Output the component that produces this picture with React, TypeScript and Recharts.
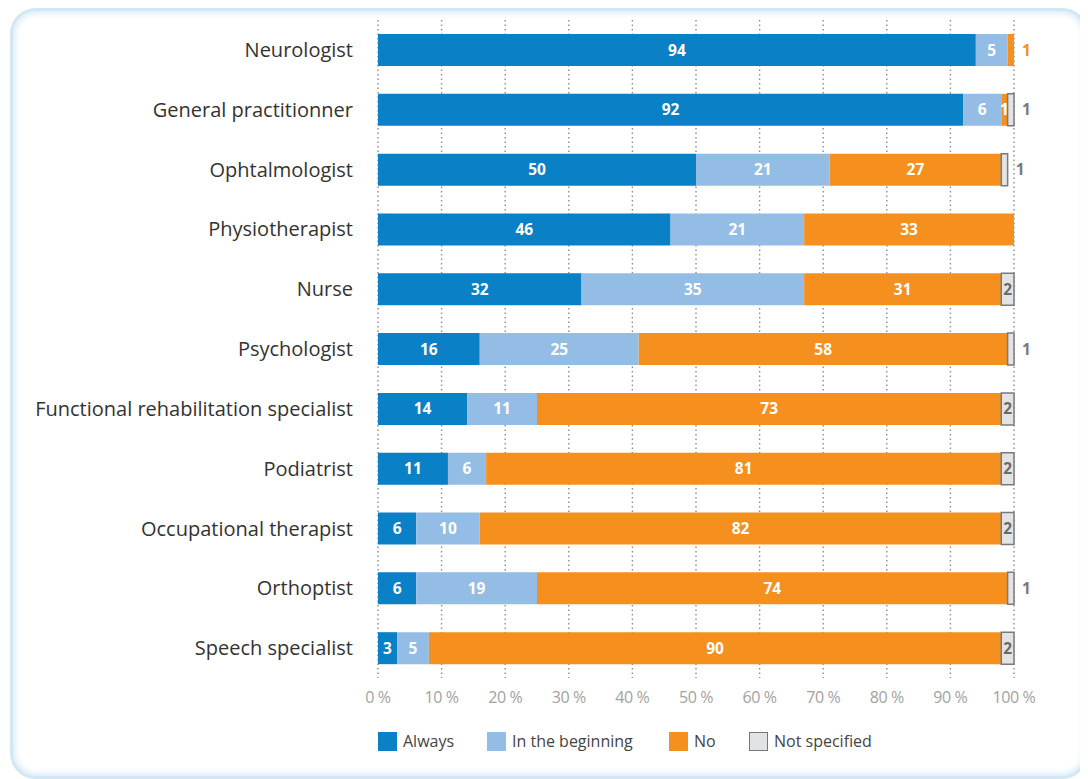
import React from "react";
import { BarChart, Bar, XAxis, YAxis, CartesianGrid, LabelList } from "recharts";

const categories = [
  "Neurologist",
  "General practitionner",
  "Ophtalmologist",
  "Physiotherapist",
  "Nurse",
  "Psychologist",
  "Functional rehabilitation specialist",
  "Podiatrist",
  "Occupational therapist",
  "Orthoptist",
  "Speech specialist",
];
const always = [94, 92, 50, 46, 32, 16, 14, 11, 6, 6, 3];
const beginning = [5, 6, 21, 21, 35, 25, 11, 6, 10, 19, 5];
const no = [1, 1, 27, 33, 31, 58, 73, 81, 82, 74, 90];
const notSpecified = [0, 1, 1, 0, 2, 1, 2, 2, 2, 1, 2];
const xTicks = [0, 10, 20, 30, 40, 50, 60, 70, 80, 90, 100];

const seriesKeys = ["always", "beginning", "no", "notSpecified"];
const seriesNames = ["Always", "In the beginning", "No", "Not specified"];
const fills = ["#0a80c6", "#94bde5", "#f5901e", "#e2e3e4"];
const outsideColors = ["#0a80c6", "#94bde5", "#f5901e", "#7a7a7a"];
const insideColors = ["#ffffff", "#ffffff", "#ffffff", "#6b6b6b"];

const data = categories.map((name, i) => ({
  name,
  always: always[i],
  beginning: beginning[i],
  no: no[i],
  notSpecified: notSpecified[i],
}));

const FONT = "'Open Sans', 'DejaVu Sans', sans-serif";

const makeLabel = (si: number) => (props: any) => {
  const { x, y, width, height, value, index } = props;
  if (!value) return null;
  const row: any = data[index];
  const isLast = seriesKeys.slice(si + 1).every((k) => !row[k]);
  const cy = Number(y) + Number(height) / 2;
  if (value === 1 && isLast) {
    return (
      <text
        x={Number(x) + Number(width) + 8}
        y={cy}
        dy="0.36em"
        textAnchor="start"
        fill={outsideColors[si]}
        fontFamily={FONT}
        fontWeight={700}
        fontSize={15.5}
      >
        {value}
      </text>
    );
  }
  return (
    <text
      x={Number(x) + Number(width) / 2}
      y={cy}
      dy="0.36em"
      textAnchor="middle"
      fill={insideColors[si]}
      fontFamily={FONT}
      fontWeight={700}
      fontSize={15.5}
    >
      {value}
    </text>
  );
};

const legendLeft = [370, 479, 661, 741];

export default function App() {
  return (
    <div style={{ position: "relative", width: 1080, height: 771 }}>
      <div
        style={{
          position: "absolute",
          left: 2,
          top: 0,
          width: 1072,
          height: 765,
          borderRadius: 26,
          border: "3px solid #d3e6f4",
          boxShadow: "inset 0 0 8px #c3def1",
          background: "#ffffff",
        }}
      />
      <div style={{ position: "absolute", left: 0, top: 0 }}>
        <BarChart
          width={1072}
          height={760}
          data={data}
          layout="vertical"
          margin={{ top: 12, right: 66, bottom: 60, left: 0 }}
          barSize={32}
        >
          <CartesianGrid
            horizontal={false}
            vertical={true}
            stroke="#8c8c8c"
            strokeDasharray="1.5 3"
            strokeWidth={1.4}
          />
          <XAxis
            type="number"
            domain={[0, 100]}
            ticks={xTicks}
            interval={0}
            tickFormatter={(v: number) => `${v} %`}
            axisLine={false}
            tickLine={false}
            tickMargin={8}
            height={30}
            tick={{ fill: "#a2a2a2", fontSize: 16, fontFamily: FONT, letterSpacing: -0.4 }}
          />
          <YAxis
            type="category"
            dataKey="name"
            width={370}
            axisLine={false}
            tickLine={false}
            tickMargin={19}
            interval={0}
            tick={{ fill: "#333333", fontSize: 20, fontFamily: FONT }}
          />
          {seriesKeys.map((k, si) => (
            <Bar
              key={k}
              dataKey={k}
              name={seriesNames[si]}
              stackId="a"
              fill={fills[si]}
              stroke={si === 3 ? "#7a7a7a" : "none"}
              strokeWidth={si === 3 ? 1.5 : 0}
              isAnimationActive={false}
            >
              <LabelList dataKey={k} content={makeLabel(si)} />
            </Bar>
          ))}
        </BarChart>
      </div>
      {seriesNames.map((n, i) => (
        <div
          key={n}
          style={{
            position: "absolute",
            left: legendLeft[i],
            top: 723,
            height: 20,
            display: "flex",
            alignItems: "center",
            fontFamily: FONT,
            fontSize: 16,
            color: "#444",
            whiteSpace: "nowrap",
          }}
        >
          <span
            style={{
              display: "inline-block",
              boxSizing: "border-box",
              width: 19,
              height: 19,
              background: fills[i],
              border: i === 3 ? "1.5px solid #777" : "none",
              marginRight: 6,
            }}
          />
          <span>{n}</span>
        </div>
      ))}
    </div>
  );
}
